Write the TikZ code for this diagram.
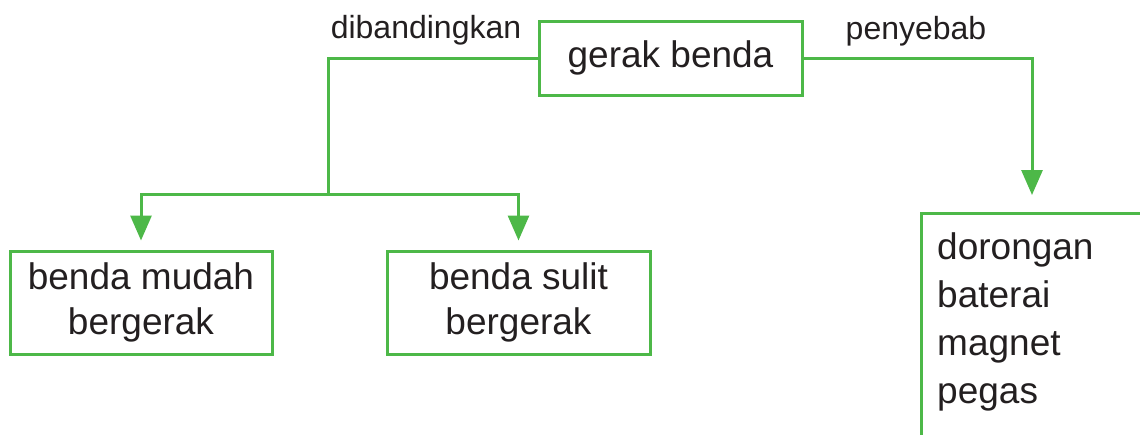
\documentclass[tikz,border=0pt]{standalone}
\usepackage{fontspec}
\setmainfont{Liberation Sans}
\usepackage{xcolor}
\usepackage{tikz}
\usetikzlibrary{arrows.meta,positioning,calc}

\definecolor{mapgreen}{RGB}{77,184,72}
\definecolor{mapink}{RGB}{35,31,32}

\tikzset{
  box/.style={draw=mapgreen,line width=3pt,rectangle,inner sep=0pt,
    text=mapink,align=center,font=\fontsize{37}{45}\selectfont},
  link/.style={draw=mapgreen,line width=3pt},
  arrow/.style={link,-{Triangle[length=25pt,width=21pt]}},
  tag/.style={text=mapink,font=\fontsize{32}{38}\selectfont}
}

\begin{document}
\begin{tikzpicture}[x=1pt,y=-1pt]
  \clip (0,0) rectangle (1140,434);

  \node[box,minimum width=263pt,minimum height=74pt] (gerak) at (670.5,58) {gerak benda};
  \node[box,minimum width=262pt,minimum height=103pt] (mudah) at (141,302.5) {benda mudah\\bergerak};
  \node[box,minimum width=263pt,minimum height=103pt] (sulit) at (518.5,302.5) {benda sulit\\bergerak};
  \node[text=mapink,anchor=north west,inner xsep=16pt,inner ysep=19pt,align=left,
    font=\fontsize{37}{48}\selectfont] (list) at (921,213) {dorongan\\baterai\\magnet\\pegas};

  % right box runs off the page
  \coordinate (far) at (1160,450);
  \draw[link] (list.north west |- far) |- (far |- list.north west);

  \coordinate (split) at (328,194);
  \coordinate (tip) at (1032,195);

  \draw[link] (gerak.west) -| (split);
  \draw[arrow,shorten >=9pt] (split) -| (mudah.north);
  \draw[arrow,shorten >=9pt] (split) -| (sulit.north);
  \draw[arrow] (gerak.east) -| (tip);

  \node[tag] (banding) at (426,30) {dibandingkan};
  \node[tag] (sebab) at (916,31) {penyebab};
\end{tikzpicture}
\end{document}
